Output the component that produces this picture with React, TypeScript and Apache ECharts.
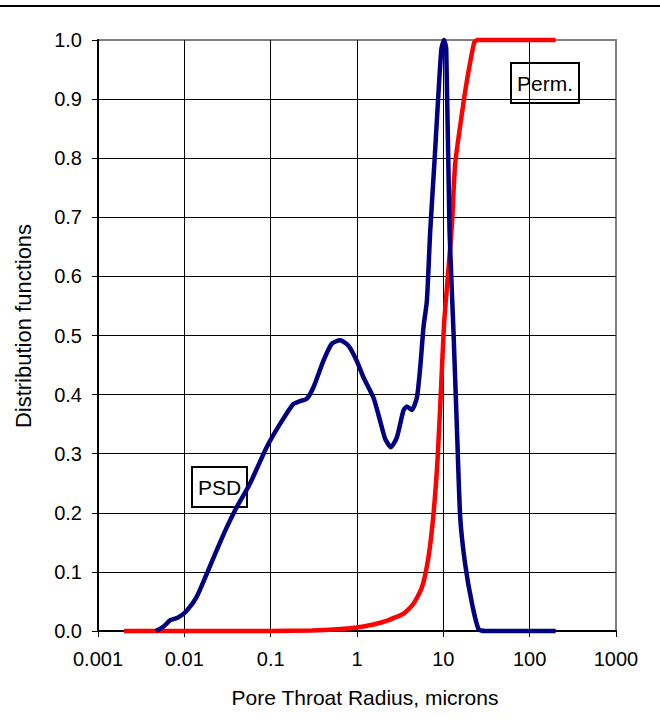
import React, { useEffect, useRef } from "react";
import * as echarts from "echarts";

// Pore size distribution (PSD) — [radius (microns), value]
const psdX = [0.0047, 0.0058, 0.0068, 0.0085, 0.0106, 0.0138, 0.0181, 0.0236, 0.0309, 0.0403, 0.0575, 0.0899, 0.128, 0.183, 0.219, 0.262, 0.312, 0.408, 0.51, 0.637, 0.795, 0.995, 1.19, 1.55, 1.85, 2.12, 2.47, 2.9, 3.45, 3.78, 4.32, 4.94, 5.4, 5.89, 6.45, 7.05, 7.94, 8.7, 9.5, 10.2, 10.8, 11.8, 13.1, 14.4, 15.7, 17.9, 21.5, 25.6, 30, 50, 100, 200];
const psdY = [0, 0.008, 0.018, 0.023, 0.034, 0.057, 0.096, 0.136, 0.175, 0.209, 0.249, 0.311, 0.35, 0.384, 0.389, 0.393, 0.412, 0.457, 0.486, 0.492, 0.483, 0.457, 0.429, 0.395, 0.356, 0.325, 0.311, 0.328, 0.373, 0.38, 0.374, 0.395, 0.446, 0.514, 0.559, 0.677, 0.8, 0.9, 0.985, 1.0, 0.985, 0.677, 0.508, 0.339, 0.192, 0.113, 0.046, 0.003, 0, 0, 0, 0];

// Permeability distribution — [radius (microns), value]
const permX = [0.002, 0.01, 0.1, 0.3, 0.6, 1.0, 1.55, 2.2, 3.0, 3.45, 4.5, 5.65, 6.73, 7.69, 8.57, 9.37, 10.2, 11.5, 12.6, 13.7, 16.4, 18.8, 22.8, 25, 50, 100, 200];
const permY = [0, 0, 0, 0.001, 0.003, 0.006, 0.011, 0.017, 0.025, 0.029, 0.046, 0.074, 0.125, 0.198, 0.29, 0.405, 0.52, 0.615, 0.69, 0.79, 0.875, 0.932, 0.996, 1.0, 1.0, 1.0, 1.0];

const xMin = 0.001;
const xMax = 1000;
const yMin = 0;
const yMax = 1;
const yStep = 0.1;

const FONT = "'Liberation Sans', Arial, sans-serif";

export default function App() {
  const ref = useRef<HTMLDivElement>(null);
  useEffect(() => {
    if (!ref.current) return;
    const chart = echarts.init(ref.current, null, { renderer: "svg" });
    const psd = psdX.map((x, i) => [x, psdY[i]]);
    const perm = permX.map((x, i) => [x, permY[i]]);
    chart.setOption({
      animation: false,
      backgroundColor: "#ffffff",
      grid: {
        left: 98,
        right: 44,
        top: 40,
        bottom: 91,
        show: true,
        borderColor: "#808080",
        borderWidth: 2,
        backgroundColor: "transparent",
      },
      xAxis: {
        type: "log",
        logBase: 10,
        min: xMin,
        max: xMax,
        axisLine: { show: true, onZero: false, lineStyle: { color: "#000", width: 2 } },
        axisTick: { show: true, inside: false, length: 6, lineStyle: { color: "#000", width: 1 } },
        axisLabel: {
          color: "#000",
          fontSize: 20,
          fontFamily: FONT,
          margin: 18,
          formatter: (v: number) => String(+v.toPrecision(3)),
        },
        splitLine: { show: true, showMinLine: false, showMaxLine: false, lineStyle: { color: "#000", width: 1 } },
      },
      yAxis: {
        type: "value",
        min: yMin,
        max: yMax,
        interval: yStep,
        axisLine: { show: true, onZero: false, lineStyle: { color: "#000", width: 2 } },
        axisTick: { show: true, inside: false, length: 6, lineStyle: { color: "#000", width: 1 } },
        axisLabel: {
          color: "#000",
          fontSize: 20,
          fontFamily: FONT,
          margin: 16,
          formatter: (v: number) => v.toFixed(1),
        },
        splitLine: { show: true, showMinLine: false, showMaxLine: false, lineStyle: { color: "#000", width: 1 } },
      },
      series: [
        {
          name: "Perm.",
          type: "line",
          data: perm,
          showSymbol: false,
          smooth: 0.2,
          clip: false,
          lineStyle: { color: "#ff0000", width: 4.5 },
          itemStyle: { color: "#ff0000" },
          z: 3,
        },
        {
          name: "PSD",
          type: "line",
          data: psd,
          showSymbol: false,
          smooth: 0.2,
          clip: false,
          lineStyle: { color: "#000080", width: 4.5 },
          itemStyle: { color: "#000080" },
          z: 4,
        },
      ],
      graphic: [
        {
          type: "line",
          shape: { x1: 0, y1: 6, x2: 660, y2: 6 },
          style: { stroke: "#000", lineWidth: 2 },
        },
        {
          type: "text",
          x: 23,
          y: 326,
          rotation: Math.PI / 2,
          style: {
            text: "Distribution functions",
            fill: "#000",
            font: `22px ${FONT}`,
            textAlign: "center",
            textVerticalAlign: "middle",
          },
        },
        {
          type: "text",
          x: 365,
          y: 697,
          style: {
            text: "Pore Throat Radius, microns",
            fill: "#000",
            font: `21px ${FONT}`,
            textAlign: "center",
            textVerticalAlign: "middle",
          },
        },
        {
          type: "group",
          x: 192,
          y: 467,
          z: 10,
          children: [
            { type: "rect", shape: { x: 0, y: 0, width: 55, height: 40 }, style: { fill: "#fff", stroke: "#000", lineWidth: 2 } },
            { type: "text", x: 27.5, y: 20, style: { text: "PSD", fill: "#000", font: `21px ${FONT}`, textAlign: "center", textVerticalAlign: "middle" } },
          ],
        },
        {
          type: "group",
          x: 511,
          y: 63,
          z: 10,
          children: [
            { type: "rect", shape: { x: 0, y: 0, width: 68, height: 40 }, style: { fill: "#fff", stroke: "#000", lineWidth: 2 } },
            { type: "text", x: 34, y: 20, style: { text: "Perm.", fill: "#000", font: `21px ${FONT}`, textAlign: "center", textVerticalAlign: "middle" } },
          ],
        },
      ],
    });
    return () => chart.dispose();
  }, []);
  return <div ref={ref} style={{ position: "absolute", left: 0, top: 0, width: 660, height: 722 }} />;
}
